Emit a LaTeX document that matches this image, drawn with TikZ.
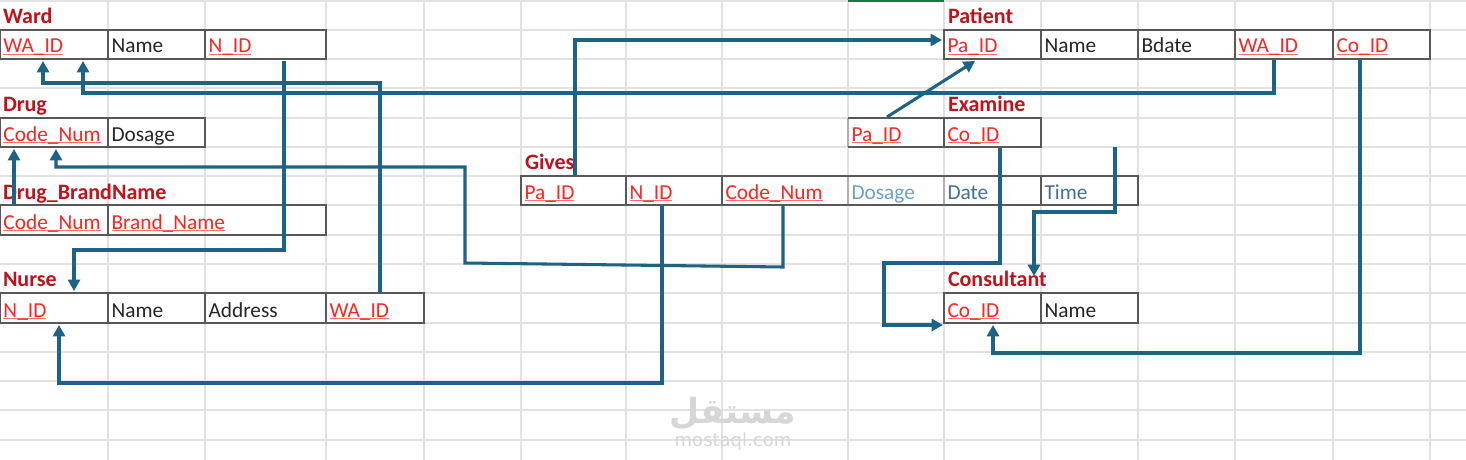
\documentclass[tikz,border=0pt]{standalone}
\usepackage{fontspec}
\setmainfont{Carlito}
\newfontfamily\arabicfont[Script=Arabic]{DejaVu Sans}
\newfontfamily\wmfont{DejaVu Sans}
\usetikzlibrary{arrows.meta,calc}
\TeXXeTstate=1
\definecolor{labelc}{RGB}{190,18,28}
\definecolor{keyc}{RGB}{255,36,36}
\definecolor{ulc}{RGB}{255,110,110}
\definecolor{textc}{RGB}{38,38,38}
\definecolor{dosc}{RGB}{112,160,196}
\definecolor{datec}{RGB}{70,112,146}
\definecolor{connc}{RGB}{30,98,132}
\definecolor{tblc}{RGB}{88,88,88}
\definecolor{tbllight}{RGB}{175,175,175}
\definecolor{gridc}{RGB}{226,226,226}
\definecolor{xlgreen}{RGB}{16,124,65}
\definecolor{wmc}{RGB}{214,214,214}
\newsavebox\keybox
\newcommand\keyt[1]{\sbox\keybox{\color{keyc}#1}\rlap{\textcolor{ulc}{\rule[-1.7pt]{\wd\keybox}{0.8pt}}}\usebox\keybox}
\newcommand\xlcell[6]{%
  \node[cellbox,minimum width={(#3-#2)*0.75pt},minimum height={(#5-#4)*0.75pt}] (#1) at ({(#2+#3)/2},{(#4+#5)/2}) {};
  \node[celltext,anchor=base west] (#1-t) at ({#2+3.5},{#5-6}) {#6};}
\begin{document}
\begin{tikzpicture}[x=0.75pt,y=-0.75pt,
  cellbox/.style={inner sep=0pt,outer sep=0pt},
  celltext/.style={inner sep=0pt,outer sep=0pt,text=textc,font=\fontsize{16}{19}\selectfont},
  lbl/.style={inner sep=0pt,outer sep=0pt,text=labelc,font=\fontsize{16.5}{19}\selectfont\bfseries},
  grid/.style={draw=gridc,line width=0.8pt},
  tbl/.style={draw=tblc,line width=1.1pt},
  tbll/.style={draw=tbllight,line width=1.1pt},
  conn/.style={draw=connc,line width=2.3pt,-{Triangle[length=8.5pt,width=9pt]}},
  wm/.style={inner sep=0pt,text=wmc}]
\useasboundingbox (0,0) rectangle (1466,460);
\fill[white] (0,0) rectangle (1466,460);
% grid
\foreach \gx in {108,205,326,424,521,626,722,848,944,1041,1138,1235,1333,1430}
  \draw[grid] (\gx,0) -- (\gx,460);
\foreach \gy in {1,30,59,88,118,147,176,205,235,264,293,323,352,381,410,440}
  \draw[grid] (0,\gy) -- (1466,\gy);
\draw[draw=xlgreen,line width=2pt] (848,0.8) -- (944,0.8);
% watermark
\node[wm,font=\arabicfont\bfseries\fontsize{26}{28}\selectfont,anchor=base] (wmar) at (733,423) {\beginR مستقل\endR};
\node[wm,font=\wmfont\fontsize{13.5}{15}\selectfont,anchor=base] (wmlat) at (733,446) {mostaql.com};
% labels
\node[lbl,anchor=base west] (lward) at (3,23.5) {Ward};
\node[lbl,anchor=base west] (ldrug) at (3,111.5) {Drug};
\node[lbl,anchor=base west] (ldbn) at (3,199) {Drug\_BrandName};
\node[lbl,anchor=base west] (lnurse) at (3,286.5) {Nurse};
\node[lbl,anchor=base west] (lgives) at (525,169.5) {Gives};
\node[lbl,anchor=base west] (lpat) at (948,23.5) {Patient};
\node[lbl,anchor=base west] (lexam) at (948,111.5) {Examine};
\node[lbl,anchor=base west] (lcons) at (948,286.5) {Consultant};
% Ward
\xlcell{w1}{0}{108}{30}{59}{\keyt{WA\_ID}}
\xlcell{w2}{108}{205}{30}{59}{Name}
\xlcell{w3}{205}{326}{30}{59}{\keyt{N\_ID}}
\draw[tbl] (w1.north west) rectangle (w3.south east);
\draw[tbl] (w1.north east) -- (w1.south east) (w2.north east) -- (w2.south east);
% Drug
\xlcell{d1}{0}{108}{118}{147}{\keyt{Code\_Num}}
\xlcell{d2}{108}{205}{118}{147}{Dosage}
\draw[tbl] (d1.north west) rectangle (d2.south east);
\draw[tbl] (d1.north east) -- (d1.south east);
% Drug_BrandName
\xlcell{b1}{0}{108}{205}{235}{\keyt{Code\_Num}}
\xlcell{b2}{108}{326}{205}{235}{\keyt{Brand\_Name}}
\draw[tbl] (b1.north west) rectangle (b2.south east);
\draw[tbl] (b1.north east) -- (b1.south east);
% Nurse
\xlcell{n1}{0}{108}{293}{323}{\keyt{N\_ID}}
\xlcell{n2}{108}{205}{293}{323}{Name}
\xlcell{n3}{205}{326}{293}{323}{Address}
\xlcell{n4}{326}{424}{293}{323}{\keyt{WA\_ID}}
\draw[tbl] (n1.north west) rectangle (n4.south east);
\draw[tbl] (n1.north east) -- (n1.south east) (n2.north east) -- (n2.south east) (n3.north east) -- (n3.south east);
% Gives
\xlcell{g1}{521}{626}{176}{205}{\keyt{Pa\_ID}}
\xlcell{g2}{626}{722}{176}{205}{\keyt{N\_ID}}
\xlcell{g3}{722}{848}{176}{205}{\keyt{Code\_Num}}
\xlcell{g4}{848}{944}{176}{205}{\textcolor{dosc}{Dosage}}
\xlcell{g5}{944}{1041}{176}{205}{\textcolor{datec}{Date}}
\xlcell{g6}{1041}{1138}{176}{205}{\textcolor{datec}{Time}}
\draw[tbll] (g3.north east) -- (g3.south east) (g4.north east) -- (g4.south east);
\draw[tbl] (g1.north west) rectangle (g6.south east);
\draw[tbl] (g1.north east) -- (g1.south east) (g2.north east) -- (g2.south east) (g5.north east) -- (g5.south east);
% Patient
\xlcell{p1}{944}{1041}{30}{59}{\keyt{Pa\_ID}}
\xlcell{p2}{1041}{1138}{30}{59}{Name}
\xlcell{p3}{1138}{1235}{30}{59}{Bdate}
\xlcell{p4}{1235}{1333}{30}{59}{\keyt{WA\_ID}}
\xlcell{p5}{1333}{1430}{30}{59}{\keyt{Co\_ID}}
\draw[tbl] (p1.north west) rectangle (p5.south east);
\draw[tbl] (p1.north east) -- (p1.south east) (p2.north east) -- (p2.south east) (p3.north east) -- (p3.south east) (p4.north east) -- (p4.south east);
% Examine
\xlcell{e1}{848}{944}{118}{147}{\keyt{Pa\_ID}}
\xlcell{e2}{944}{1041}{118}{147}{\keyt{Co\_ID}}
\draw[tbll] (e1.north west) -- (e1.south west);
\draw[tbl] (e1.north west) -- (e2.north east) -- (e2.south east) -- (e1.south west);
\draw[tbl] (e1.north east) -- (e1.south east);
% Consultant
\xlcell{c1}{944}{1041}{293}{323}{\keyt{Co\_ID}}
\xlcell{c2}{1041}{1138}{293}{323}{Name}
\draw[tbl] (c1.north west) rectangle (c2.south east);
\draw[tbl] (c1.north east) -- (c1.south east);
% connectors
\draw[conn] ($(w3.south west)+(79,2)$) -- ++(0,189) -| ($(n1.north west)+(74,-2)$);
\draw[conn] ($(n4.north west)+(54,-1)$) -- ++(0,-209) -| ($(w1.south west)+(43,2)$);
\draw[conn] ($(p4.south west)+(39,1)$) -- ++(0,33) -| ($(w1.south west)+(83,2)$);
\draw[conn] ($(b1.north west)+(14,0)$) -- ($(d1.south west)+(14,2)$);
\draw[conn] ($(g3.south west)+(61,1)$) -- ++(0,61) -- (465,263) -- (465,167) -| ($(d1.south west)+(56,2)$);
\draw[conn] ($(g2.south west)+(36,1)$) -- ++(0,177) -| ($(n1.south west)+(59,2)$);
\draw[conn] ($(g1.north west)+(54,0)$) |- ($(p1.north west)+(-2,10)$);
\draw[conn] ($(e1.north west)+(39,-1)$) -- ($(p1.south west)+(31,2)$);
\draw[conn] ($(e2.south west)+(56,1)$) -- ++(0,115) -| ($(c1.south west)+(-60,2)$) -- ($(c1.south west)+(-1,2)$);
\coordinate (tfree) at (1115,147);
\draw[conn] (tfree) -- ++(0,65) -| ($(c1.north west)+(90,-17)$);
\draw[conn] ($(p5.south west)+(27,1)$) -- ++(0,293) -| ($(c1.south west)+(49,2)$);
\end{tikzpicture}
\end{document}
